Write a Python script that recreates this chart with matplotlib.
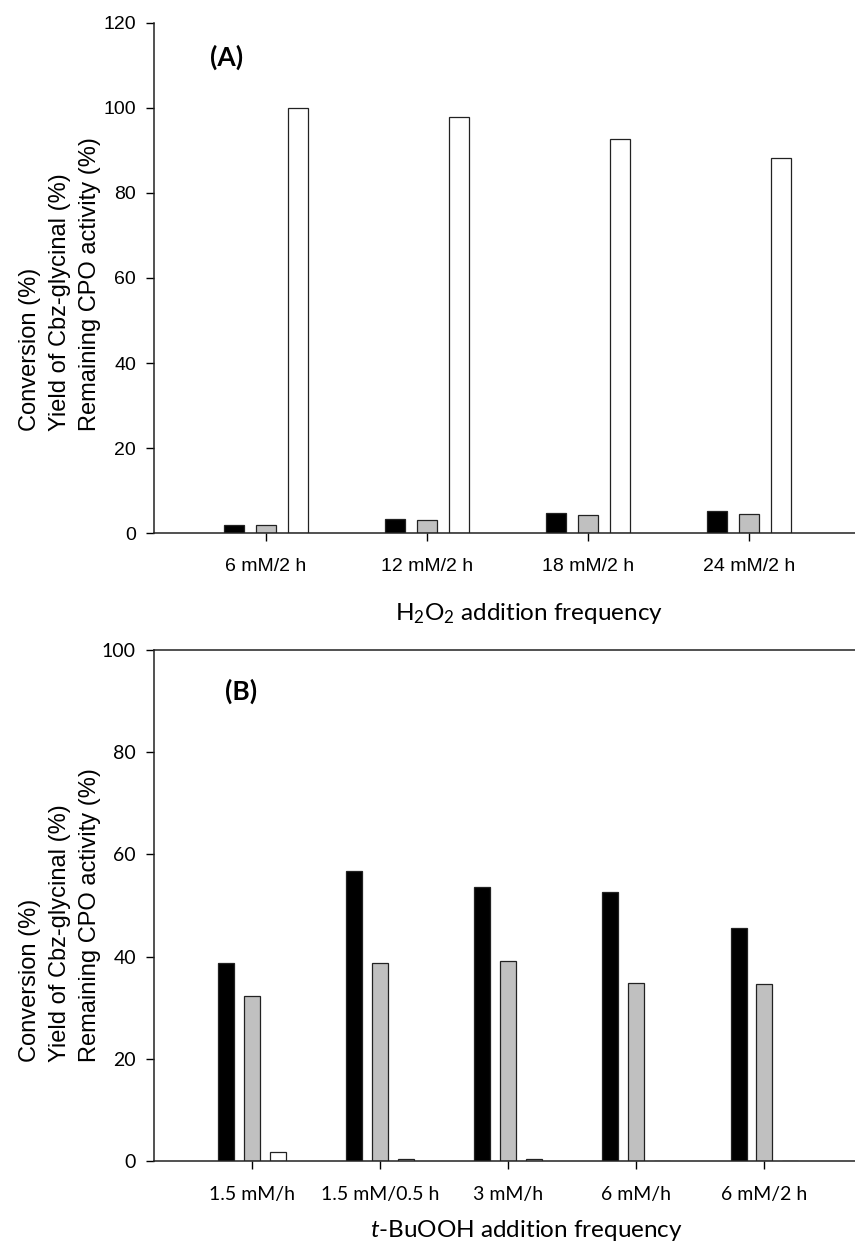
import numpy as np
import matplotlib
matplotlib.use("Agg")
import matplotlib.pyplot as plt

plt.rcParams['mathtext.fontset'] = 'custom'
plt.rcParams['mathtext.rm'] = 'Lato'
plt.rcParams['mathtext.it'] = 'Lato:italic'

# Panel A: H2O2 addition frequency
h2o2_labels = ['6 mM/2 h', '12 mM/2 h', '18 mM/2 h', '24 mM/2 h']
h2o2_conversion = [2.0, 3.3, 4.8, 5.1]
h2o2_yield = [1.9, 3.0, 4.2, 4.4]
h2o2_activity = [100.0, 97.8, 92.7, 88.3]

# Panel B: t-BuOOH addition frequency
tbu_labels = ['1.5 mM/h', '1.5 mM/0.5 h', '3 mM/h', '6 mM/h', '6 mM/2 h']
tbu_conversion = [38.8, 56.8, 53.7, 52.6, 45.5]
tbu_yield = [32.3, 38.8, 39.1, 34.8, 34.7]
tbu_activity = [1.8, 0.4, 0.4, 0.0, 0.0]

ylab = 'Conversion (%)\nYield of Cbz-glycinal (%)\nRemaining CPO activity (%)'
colors = ['black', '#c0c0c0', 'white']
width = 0.125
offset = 0.2


def draw(ax, labels, series, ymax, tickfont, xlabel, panel, panel_xy, xlim, ylab_y):
    x = np.arange(len(labels))
    for i, (vals, c) in enumerate(zip(series, colors)):
        ax.bar(x + (i - 1) * offset, vals, width, color=c, edgecolor='#222222', linewidth=0.9)
    ax.set_xlim(*xlim)
    ax.set_ylim(0, ymax)
    ax.set_yticks(np.arange(0, ymax + 1, 20))
    ax.set_xticks(x)
    ax.set_xticklabels(labels)
    for lab in ax.get_xticklabels() + ax.get_yticklabels():
        lab.set_fontfamily(tickfont)
        lab.set_fontsize(14)
    ax.tick_params(axis='x', length=6, width=1, pad=12)
    ax.tick_params(axis='y', length=6, width=1, pad=7)
    ax.spines['right'].set_visible(False)
    for s in ['left', 'bottom', 'top']:
        ax.spines[s].set_linewidth(1.1)
        ax.spines[s].set_color('#222222')
    # y label: three left-aligned lines, starting low on the axis
    ax.text(-0.134, ylab_y, ylab, transform=ax.get_yaxis_transform(),
            rotation=90, ha='center', va='bottom', multialignment='left',
            fontsize=17, fontfamily='Liberation Sans', linespacing=1.45)
    ax.text(panel_xy[0], panel_xy[1], panel, fontsize=19, fontweight='bold',
            fontfamily='Lato', va='center', ha='left')
    ax.set_xlabel(xlabel, fontsize=17.5, fontfamily='Lato')
    return ax


fig = plt.figure(figsize=(8.55, 12.48), dpi=100)
ax1 = fig.add_axes([0.1801, 0.5729, 0.8199, 0.4087])
ax2 = fig.add_axes([0.1801, 0.0697, 0.8199, 0.4095])

draw(ax1, h2o2_labels, [h2o2_conversion, h2o2_yield, h2o2_activity], 120,
     'Liberation Sans', r'H$_2$O$_2$ addition frequency', '(A)', (-0.35, 112),
     (-0.696, 3.66), 24)
ax1.spines['top'].set_visible(False)
ax1.xaxis.set_label_coords(0.535, -0.157)
ax1.xaxis.label.set_va('center')

draw(ax2, tbu_labels, [tbu_conversion, tbu_yield, tbu_activity], 100,
     'Lato', r'$t$-BuOOH addition frequency', '(B)', (-0.21, 92),
     (-0.766, 4.71), 19.4)
ax2.xaxis.set_label_coords(0.531, -0.135)
ax2.xaxis.label.set_va('center')

fig.savefig('out.png', dpi=100)
